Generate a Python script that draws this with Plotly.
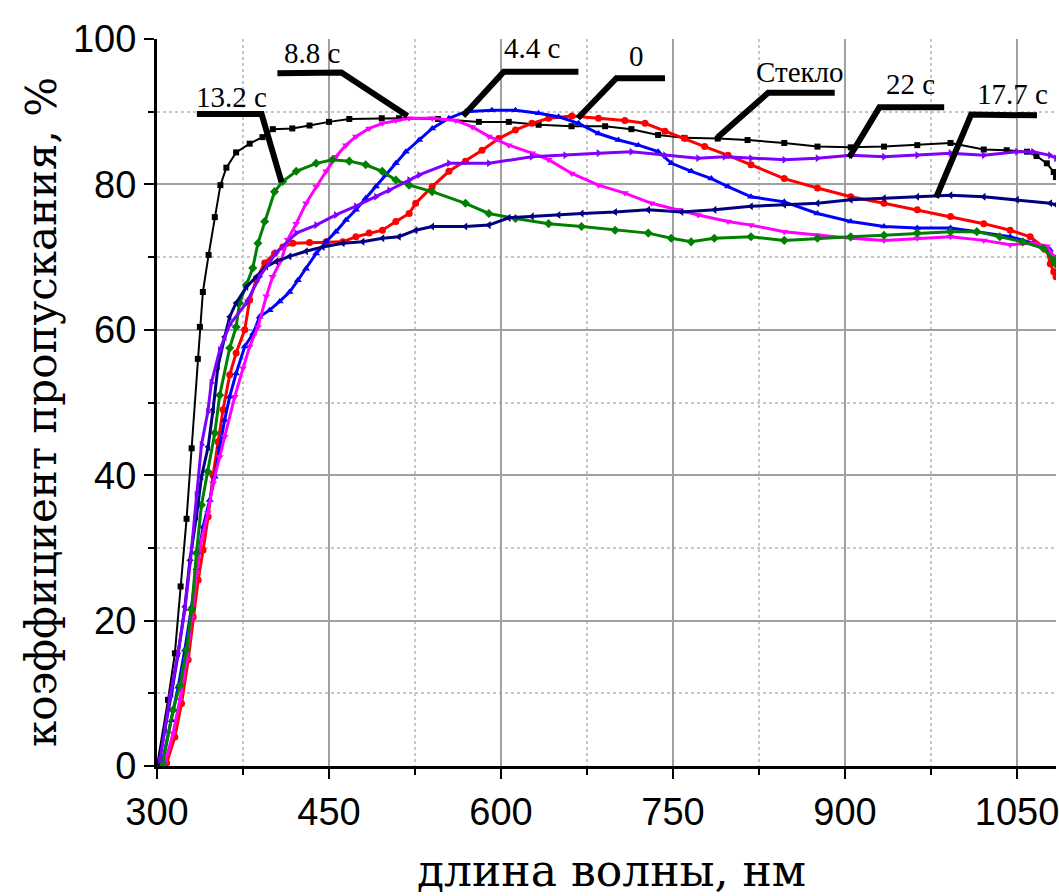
import plotly.graph_objects as go

# ---------------- data (wavelength nm, transmittance %) ----------------
glass = [(300, 0), (309.6, 9.1), (315.6, 15.5), (320.6, 24.7), (325.8, 34), (330.2, 43.7),
         (335.6, 56), (337.4, 60.4), (340, 65.2), (345, 70.3), (350.4, 75.5), (355.3, 79.9),
         (360.5, 82.3), (369, 84.4), (380.8, 85.6), (392, 86.5), (401, 87.6), (418, 87.7),
         (433, 88.1), (450, 88.6), (467.7, 89), (496, 89.1), (511, 89.1), (545, 89.0),
         (580.7, 88.6), (606.8, 88.6), (632.8, 88.2), (661.5, 88), (690.8, 88), (713.7, 87.6),
         (737, 86.8), (760, 86.4), (789, 86.3), (815, 86.1), (847, 85.7), (876, 85.2),
         (905, 85.1), (934, 85.2), (963, 85.4), (992, 85.7), (1021, 84.8), (1041, 84.7),
         (1058.7, 84.5), (1067, 83.9), (1076, 82.9), (1082, 81.7), (1084, 81.0)]

s0 = [(304, 0), (308.4, 0.4), (315.6, 4), (321.4, 8.6), (327.2, 14.6), (331.6, 20.5), (335.9, 25.6),
      (340.2, 29.7), (344.6, 34.3), (348.9, 40.0), (353.2, 44.6), (357.6, 49.0), (363.4, 53.8),
      (369, 56.8), (376.5, 60), (380.8, 64.1), (386.6, 66.9), (393.9, 69.2), (402.5, 70.5),
      (409.8, 71.4), (418.4, 71.9), (433, 72), (447.5, 72.1), (462, 72.1), (473.5, 72.8),
      (485, 73.3), (496.6, 73.7), (508.3, 74.9), (519.9, 76.0), (525.6, 77.4), (540, 79.7),
      (554.6, 81.8), (569, 83.2), (583.5, 84.7), (598, 86.3), (612.6, 87.5), (627, 88.4),
      (641.5, 89.1), (661.8, 89.4), (685, 89.1), (708, 88.8), (725.6, 88.4), (743, 87.3),
      (760.4, 86.3), (777.6, 85.2), (798, 84.0), (818, 82.7), (847, 80.8), (876, 79.5),
      (905, 78.3), (934, 77.4), (963, 76.5), (992, 75.6), (1021, 74.6), (1044, 73.7),
      (1061.5, 72.8), (1076, 71.0), (1079, 69.1), (1082, 68.0), (1084, 67.3)]

s44 = [(305, 0.8), (312.7, 6.3), (318.5, 10.9), (324.3, 16), (330.2, 21.9), (334.4, 27.2),
       (340.2, 32.9), (346, 36.6), (350.4, 39.8), (354.7, 43.9), (359, 47.6), (363.4, 50.8),
       (369, 54), (376.5, 57.7), (383.8, 59.5), (389.5, 61.8), (398.2, 62.7), (407, 63.9),
       (415.6, 65.2), (422.8, 66.8), (430, 68.4), (438.8, 70.5), (447.5, 72.1), (456, 73.5),
       (464.8, 75.1), (473.5, 76.5), (482, 78.1), (491, 79.7), (499.6, 81.3), (508.3, 82.9),
       (517, 84.5), (528.6, 86.1), (540, 87.7), (554.6, 89.1), (569, 90.0), (592, 90.2),
       (612.6, 90.2), (632.8, 89.8), (650.2, 89.3), (667.6, 88.4), (685, 87.0), (702.4, 86.1),
       (719.8, 85.4), (737.1, 84.5), (748.7, 82.9), (766, 81.8), (783.4, 80.8), (798, 79.7),
       (818, 78.3), (847, 77.6), (876, 76.0), (905, 74.9), (934, 74.2), (963, 74.0),
       (992, 74.0), (1015, 73.5), (1044, 72.8), (1064, 71.9), (1078.7, 71.0), (1083, 69.5)]

s88 = [(307, 0.4), (314, 4.5), (320, 9.1), (325.8, 14.6), (330.2, 20.4), (334.4, 26.5),
       (338.8, 31.1), (344.3, 34.8), (348.9, 38.9), (354.7, 42.5), (359, 45.3), (367.8, 50.8),
       (375, 54.7), (380.8, 57.7), (388, 60.4), (395.3, 64.6), (400.8, 67.3), (408.4, 69.6),
       (414, 72.4), (421.4, 74.6), (430, 77.4), (438.8, 79.7), (447.5, 81.8), (456, 83.8),
       (464.8, 85.4), (473.5, 86.6), (485, 87.7), (496.6, 88.4), (508.3, 88.8), (519.9, 89.1),
       (540, 89.1), (560.5, 88.8), (574.9, 87.9), (589.4, 86.6), (606.8, 85.4), (627, 84.3),
       (641.5, 83.4), (661.7, 81.5), (685, 79.9), (708, 78.8), (731.3, 77.4), (754.5, 76.5),
       (771.9, 75.8), (798, 74.9), (818, 74.4), (847, 73.5), (876, 73.0), (905, 72.6),
       (934, 72.3), (963, 72.6), (992, 72.8), (1021, 72.3), (1044, 71.7), (1064, 71.9),
       (1076, 71.5), (1082, 70.1), (1084, 69.5)]

s132 = [(305, 0.4), (314, 7.7), (320, 11.1), (325.8, 16), (330.2, 21.5), (334.4, 29.3),
        (338.8, 35.9), (344.3, 40.5), (350.4, 45.8), (354.7, 51), (363.4, 57.5), (369, 60.4),
        (372, 63.7), (378, 66.2), (383.5, 68.5), (388, 71.9), (393.9, 74.9), (402.5, 79),
        (409.5, 80.4), (421.4, 81.8), (438.8, 82.9), (453, 83.4), (467.7, 83.2), (482, 82.7),
        (496.4, 81.8), (508.3, 80.6), (519.9, 79.9), (540, 79.0), (569, 77.4), (589.4, 76),
        (612.6, 75.3), (641.5, 74.6), (670.2, 74.2), (699.5, 73.7), (728.4, 73.3), (748.4, 72.6),
        (765.8, 72.1), (786, 72.6), (818, 72.8), (847, 72.3), (876, 72.6), (905, 72.8),
        (934, 73.0), (963, 73.3), (992, 73.5), (1015, 73.5), (1035, 72.8), (1055, 72.1),
        (1073, 71.2), (1082, 69.6), (1084, 69.0)]

s177 = [(301, 0.1), (307, 5), (312.7, 10), (318.5, 15.5), (324.3, 21.9), (328.7, 28.3),
        (334.4, 34.3), (338.8, 39.8), (344.6, 43.9), (348.9, 49), (353.2, 55), (359, 59),
        (363.4, 61.8), (369, 63.7), (378, 65.9), (386.6, 67.3), (395.3, 68.7), (404, 69.4),
        (415.6, 70.1), (430, 70.8), (444.6, 71.4), (462, 71.9), (479.3, 72.1), (496.6, 72.6),
        (511, 72.8), (525.6, 73.7), (540, 74.2), (569, 74.2), (589.4, 74.4), (606.8, 75.4),
        (627, 75.6), (650.2, 75.8), (670.4, 76.0), (699.5, 76.2), (728.4, 76.5), (757.4, 76.2),
        (786.3, 76.5), (818, 77.0), (847, 77.2), (876, 77.4), (905, 77.9), (934, 78.1),
        (963, 78.3), (992, 78.5), (1021, 78.3), (1050, 77.9), (1079, 77.4), (1084, 77.2)]

s22 = [(302.6, 0.8), (311.3, 9.5), (318.3, 15.5), (324.3, 21.5), (329.2, 28.3), (334.4, 37.3),
       (338.8, 44.2), (344.3, 48.7), (347.4, 52.7), (354.7, 57.2), (363.4, 60.7), (378, 63.7),
       (389.5, 67.3), (404, 70.6), (421.4, 73.3), (438.8, 74.4), (456, 75.8), (473.5, 77),
       (491, 78.3), (502.5, 79.2), (519.9, 80.6), (528.6, 81.3), (554.6, 82.9), (589.4, 82.9),
       (626.8, 83.8), (656, 84.0), (685, 84.3), (713.7, 84.5), (743, 84.0), (771.9, 83.6),
       (795, 83.8), (818, 83.6), (847, 83.4), (876, 83.6), (905, 84.0), (934, 83.8),
       (963, 84.0), (992, 84.3), (1021, 84.0), (1050, 84.5), (1064, 84.5), (1078.7, 84.0),
       (1084, 83.6)]

series_names = ["Стекло", "0", "4.4 с", "8.8 с", "13.2 с", "17.7 с", "22 с"]
series_data = [glass, s0, s44, s88, s132, s177, s22]
series_colors = ["#000000", "#FF0000", "#0000FF", "#FF00FF", "#008000", "#000080", "#8000FF"]
series_symbols = ["square", "circle", "triangle-up", "triangle-down", "diamond",
                  "triangle-left", "triangle-right"]

# label text, label position, leader polyline (data units)
labels = [
    ("13.2 с", (365, 92.0), [(334.8, 89.7), (391.2, 89.7), (408.6, 80.3)]),
    ("8.8 с", (435, 98.1), [(405, 95.3), (460.8, 95.4), (518.5, 89.4)]),
    ("4.4 с", (627, 98.8), [(567, 89.4), (602.4, 95.5), (667.5, 95.5)]),
    ("0", (718, 97.6), [(667, 89.1), (700.6, 94.6), (743, 94.6)]),
    ("Стекло", (861, 95.4), [(789, 86.5), (833, 92.6), (891, 92.6)]),
    ("22 с", (957, 93.8), [(903.6, 83.7), (930, 90.6), (986.5, 90.6)]),
    ("17.7 с", (1046, 92.4), [(979.5, 78.2), (1010, 89.6), (1067.4, 89.5)]),
]

LABEL_FONT = "Liberation Serif"
TITLE_FONT = "DejaVu Serif"

fig = go.Figure()
for name, data, col, sym in zip(series_names, series_data, series_colors, series_symbols):
    xs = [p[0] for p in data]
    ys = [p[1] for p in data]
    is_glass = name == "Стекло"
    fig.add_trace(go.Scatter(
        x=xs, y=ys, mode="lines+markers", name=name,
        line=dict(color=col, width=2 if is_glass else 3),
        marker=dict(symbol=sym, color=col, size=6 if is_glass else 7, line=dict(width=0)),
        showlegend=False,
    ))

shapes = []
for text, pos, pts in labels:
    path = "M " + " L ".join(f"{x},{y}" for x, y in pts)
    shapes.append(dict(type="path", path=path, xref="x", yref="y",
                       line=dict(color="black", width=6)))

annotations = []
for text, pos, pts in labels:
    annotations.append(dict(x=pos[0], y=pos[1], xref="x", yref="y", text=text,
                            showarrow=False, xanchor="center", yanchor="middle",
                            font=dict(family=LABEL_FONT, size=29, color="black")))

annotations.append(dict(x=0.5055, y=-0.144, xref="paper", yref="paper",
                        text="длина волны, нм", showarrow=False,
                        xanchor="center", yanchor="middle",
                        font=dict(family=TITLE_FONT, size=44, color="black")))
annotations.append(dict(x=-0.128, y=0.487, xref="paper", yref="paper",
                        text="коэффициент пропускания, %", showarrow=False,
                        textangle=-90, xanchor="center", yanchor="middle",
                        font=dict(family=TITLE_FONT, size=42, color="black")))

axis_common = dict(
    showline=True, linecolor="black", linewidth=3,
    ticks="outside", ticklen=10, tickwidth=2, tickcolor="black",
    showgrid=True, gridcolor="#a0a0a0", gridwidth=1.5,
    zeroline=False, ticklabeloverflow="allow",
    tickfont=dict(family="Liberation Sans, Arial, sans-serif", size=38, color="black"),
)

fig.update_layout(
    width=1059, height=896,
    margin=dict(l=157, r=0, t=39, b=130),
    paper_bgcolor="white", plot_bgcolor="white",
    shapes=shapes, annotations=annotations,
    xaxis=dict(range=[300, 1084], tick0=300, dtick=150,
               minor=dict(dtick=75, ticks="outside", ticklen=6, tickwidth=2, tickcolor="black",
                          showgrid=True, gridcolor="#c8c8c8", griddash="dot", gridwidth=1.5),
               **axis_common),
    yaxis=dict(range=[0, 100], tick0=0, dtick=20,
               minor=dict(dtick=10, ticks="outside", ticklen=6, tickwidth=2, tickcolor="black",
                          showgrid=True, gridcolor="#c8c8c8", griddash="dot", gridwidth=1.5),
               **axis_common),
)

fig.write_html("out.html")
